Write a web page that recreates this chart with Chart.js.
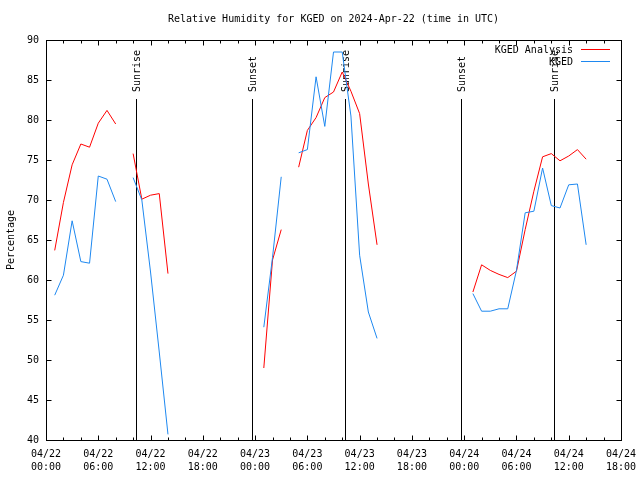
<!DOCTYPE html>
<html><head><meta charset="utf-8">
<script src="https://cdn.jsdelivr.net/npm/chart.js@4/dist/chart.umd.min.js"></script>
<style>html,body{margin:0;padding:0;background:#fff}canvas{display:block}</style>
</head><body>
<canvas id="c" width="640" height="480"></canvas>
<script>
const FONT = '"DejaVu Sans Mono", "Liberation Mono", monospace';
const chartTitle = 'Relative Humidity for KGED on 2024-Apr-22 (time in UTC)';
const yTitle = 'Percentage';
const seriesNames = ['KGED Analysis', 'KGED'];
// hours since 04/22 00:00 UTC
const hours = [0,1,2,3,4,5,6,7,8,9,10,11,12,13,14,15,16,17,18,19,20,21,22,23,24,25,26,27,28,29,30,31,32,33,34,35,36,37,38,39,40,41,42,43,44,45,46,47,48,49,50,51,52,53,54,55,56,57,58,59,60,61,62];
const analysis = [null,63.7,69.7,74.4,77.0,76.6,79.6,81.2,79.5,null,75.8,70.1,70.6,70.8,60.8,
  null,null,null,null,null,null,null,null,null,null,
  49.0,62.5,66.3,null,74.1,78.7,80.3,82.8,83.5,86.0,83.6,80.8,72.0,64.4,
  null,null,null,null,null,null,null,null,null,null,
  58.5,61.9,61.2,60.7,60.3,61.1,66.3,71.1,75.4,75.8,74.9,75.5,76.3,75.1];
const observed = [null,58.1,60.6,67.4,62.3,62.1,73.0,72.6,69.8,null,72.8,70.0,61.0,51.0,40.7,
  null,null,null,null,null,null,null,null,null,null,
  54.1,62.8,72.9,null,75.9,76.3,85.4,79.2,88.5,88.5,80.5,63.1,56.0,52.7,
  null,null,null,null,null,null,null,null,null,null,
  58.3,56.1,56.1,56.4,56.4,61.2,68.4,68.6,74.0,69.3,69.0,71.9,72.0,64.4];
const xTickLabels = [['04/22','00:00'],['04/22','06:00'],['04/22','12:00'],['04/22','18:00'],
  ['04/23','00:00'],['04/23','06:00'],['04/23','12:00'],['04/23','18:00'],
  ['04/24','00:00'],['04/24','06:00'],['04/24','12:00'],['04/24','18:00']];
const sunTimes = [10.35, 23.68, 34.33, 47.67, 58.3];
const sunLabels = ['Sunrise','Sunset','Sunrise','Sunset','Sunrise'];
const colors = ['#ff0000', '#1e88f0'];

const toPts = arr => hours.map((h, i) => ({x: h, y: arr[i]}));

const decor = {
  id: 'decor',
  beforeDatasetsDraw(chart) {
    const ctx = chart.ctx, xs = chart.scales.x, a = chart.chartArea;
    ctx.save();
    ctx.strokeStyle = '#000'; ctx.lineWidth = 1;
    ctx.fillStyle = '#000';
    ctx.font = '10px ' + FONT;
    sunTimes.forEach((t, i) => {
      const px = Math.round(xs.getPixelForValue(t)) + 0.5;
      ctx.beginPath(); ctx.moveTo(px, 99); ctx.lineTo(px, a.bottom); ctx.stroke();
      ctx.save();
      ctx.translate(px + 1, 92);
      ctx.rotate(-Math.PI / 2);
      ctx.textAlign = 'left'; ctx.textBaseline = 'middle';
      ctx.fillText(sunLabels[i], 0, 0);
      ctx.restore();
    });
    ctx.restore();
  },
  afterDraw(chart) {
    const ctx = chart.ctx, xs = chart.scales.x, ys = chart.scales.y, a = chart.chartArea;
    ctx.save();
    ctx.strokeStyle = '#000'; ctx.lineWidth = 1;
    const L = Math.round(a.left) + 0.5, R = Math.round(a.right) + 0.5,
          T = Math.round(a.top) + 0.5, B = Math.round(a.bottom) + 0.5;
    ctx.strokeRect(L, T, R - L, B - T);
    ctx.beginPath();
    for (let v = xs.min; v <= xs.max + 1e-6; v += 2) {
      const px = Math.round(xs.getPixelForValue(v)) + 0.5;
      const len = (v % 6 === 0) ? 5 : 3;
      ctx.moveTo(px, B); ctx.lineTo(px, B - len);
      ctx.moveTo(px, T); ctx.lineTo(px, T + len);
    }
    for (let v = ys.min; v <= ys.max + 1e-6; v += 5) {
      const py = Math.round(ys.getPixelForValue(v)) + 0.5;
      ctx.moveTo(L, py); ctx.lineTo(L + 5, py);
      ctx.moveTo(R, py); ctx.lineTo(R - 5, py);
    }
    ctx.stroke();
    // title
    ctx.fillStyle = '#000';
    ctx.font = '10px ' + FONT;
    ctx.textAlign = 'center'; ctx.textBaseline = 'middle';
    ctx.fillText(chartTitle, (a.left + a.right) / 2, 19);
    // y title
    ctx.save();
    ctx.translate(11, (a.top + a.bottom) / 2);
    ctx.rotate(-Math.PI / 2);
    ctx.fillText(yTitle, 0, 0);
    ctx.restore();
    // legend
    ctx.textAlign = 'right';
    seriesNames.forEach((n, i) => {
      const y = 50 + i * 12;
      ctx.fillStyle = '#000';
      ctx.fillText(n, 573, y);
      ctx.strokeStyle = colors[i];
      ctx.beginPath(); ctx.moveTo(581, y - 0.5); ctx.lineTo(610, y - 0.5); ctx.stroke();
    });
    ctx.restore();
  }
};

new Chart(document.getElementById('c'), {
  type: 'line',
  data: {
    datasets: [
      {label: seriesNames[0], data: toPts(analysis), borderColor: colors[0], borderWidth: 1, pointRadius: 0, spanGaps: false, tension: 0, order: 2},
      {label: seriesNames[1], data: toPts(observed), borderColor: colors[1], borderWidth: 1, pointRadius: 0, spanGaps: false, tension: 0, order: 1}
    ]
  },
  options: {
    responsive: false, animation: false,
    layout: {padding: {left: 0, right: 19, top: 40, bottom: 0}},
    plugins: {legend: {display: false}, title: {display: false}, tooltip: {enabled: false}},
    scales: {
      x: {
        type: 'linear', min: 0, max: 66,
        grid: {display: false, drawTicks: false}, border: {display: false},
        ticks: {stepSize: 6, autoSkip: false, maxRotation: 0, padding: 8, color: '#000',
          font: {family: FONT, size: 10, lineHeight: 1.3},
          callback: v => xTickLabels[Math.round(v / 6)]},
        afterFit: s => { s.height = 40; s.paddingLeft = 0; s.paddingRight = 0; }
      },
      y: {
        min: 40, max: 90,
        grid: {display: false, drawTicks: false}, border: {display: false},
        ticks: {stepSize: 5, padding: 7, color: '#000', font: {family: FONT, size: 10}},
        afterFit: s => { s.width = 46; s.paddingTop = 0; s.paddingBottom = 0; }
      }
    }
  },
  plugins: [decor]
});
</script>
</body></html>
